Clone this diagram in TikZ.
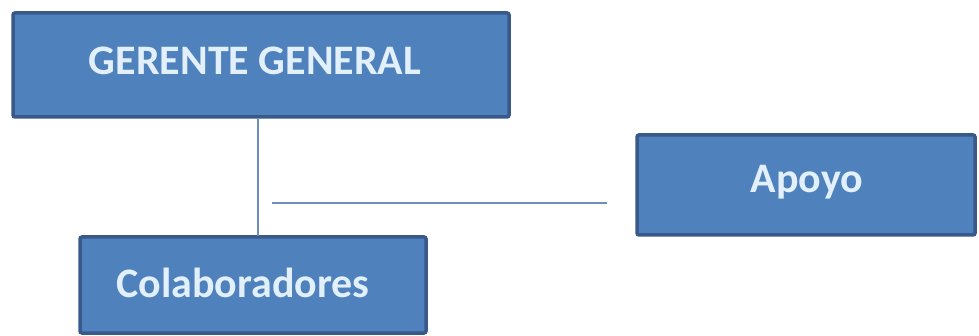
\documentclass[tikz,border=0pt]{standalone}
\usepackage{fontspec}
\setmainfont{Carlito}
\definecolor{boxfill}{HTML}{4F81BD}
\definecolor{boxline}{HTML}{38598A}
\definecolor{txt}{HTML}{E2F0FC}
\definecolor{conn}{HTML}{6E8DB8}
\begin{document}
\begin{tikzpicture}[x=1pt,y=-1pt,
  orgbox/.style={draw=boxline, line width=3.5pt, fill=boxfill, rounded corners=2pt, inner sep=0pt},
  lbl/.style={text=txt, font=\fontsize{42}{44}\selectfont\bfseries, inner sep=0pt, anchor=center},
  link/.style={draw=conn, line width=2.6pt}]
\useasboundingbox (0,0) rectangle (979,336);
\draw[orgbox] (13,13) rectangle (509,117);
\node[lbl] (g) at (255,61) {GERENTE GENERAL};
\draw[orgbox] (637,135) rectangle (975,235);
\node[lbl] (a) at (807,182) {Apoyo};
\draw[orgbox] (80,237) rectangle (426,333);
\node[lbl] (c) at (243,283) {Colaboradores};
\coordinate (gb) at (258,119);
\coordinate (ct) at (258,236);
\coordinate (hl) at (272,203);
\coordinate (hr) at (607,203);
\draw[link] (gb) -- (ct);
\draw[link] (hl) -- (hr);
\end{tikzpicture}
\end{document}
